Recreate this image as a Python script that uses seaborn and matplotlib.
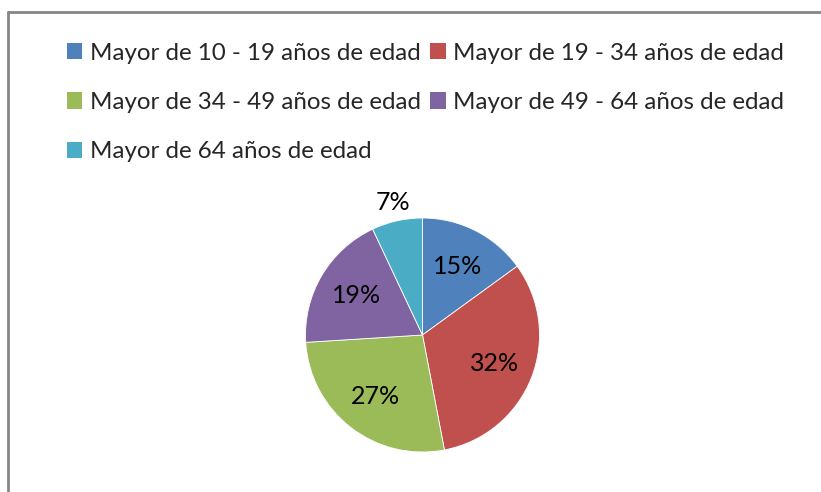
import matplotlib
matplotlib.use("Agg")
import matplotlib.pyplot as plt
import seaborn as sns
from matplotlib.patches import Patch

# Data
labels = ['Mayor de 10 - 19 años de edad', 'Mayor de 19 - 34 años de edad',
          'Mayor de 34 - 49 años de edad', 'Mayor de 49 - 64 años de edad',
          'Mayor de 64 años de edad']
values = [15, 32, 27, 19, 7]
colors = ['#4F81BD', '#C0504D', '#9BBB59', '#8064A2', '#4BACC6']

sns.set_style("white")
plt.rcParams['font.family'] = ['Lato', 'DejaVu Sans']

fig = plt.figure(figsize=(8.21, 4.92), dpi=100)

# pie axes: centre ~ (422, 335) px, radius ~117 px
W, H = 821, 492
cx, cy, r = 422.5, 335, 117
ax = fig.add_axes([(cx - r) / W, (H - cy - r) / H, 2 * r / W, 2 * r / H])
wedges, texts, autotexts = ax.pie(values, colors=colors, startangle=90, counterclock=False,
                                  autopct='%1.0f%%', pctdistance=0.66,
                                  wedgeprops=dict(edgecolor='white', linewidth=0.6),
                                  textprops=dict(fontsize=18, color='black'))
# small slice label sits outside
x, y = autotexts[-1].get_position()
autotexts[-1].set_position((x / 0.66 * 1.16, y / 0.66 * 1.16))
ax.set_xlim(-1, 1)
ax.set_ylim(-1, 1)
ax.set_aspect('equal')
ax.axis('off')

# legend row-wise order with 2 columns
handles = [Patch(facecolor=c, edgecolor='none') for c in colors]
order = [0, 2, 4, 1, 3]
fig.legend([handles[i] for i in order], [labels[i] for i in order], ncol=2,
           loc='upper left', bbox_to_anchor=(57 / W, 1 - 33 / H), frameon=False,
           fontsize=17.4, handlelength=0.65, handleheight=0.65, handletextpad=0.3,
           columnspacing=0.4, labelspacing=1.17, borderaxespad=0)

# chart frame (top and left edges visible)
fig.add_artist(plt.Line2D([8 / W, 1.0], [1 - 12 / H, 1 - 12 / H], color='#868686', lw=2))
fig.add_artist(plt.Line2D([8 / W, 8 / W], [0, 1 - 12 / H], color='#868686', lw=2))

fig.savefig('out.png', dpi=100)
